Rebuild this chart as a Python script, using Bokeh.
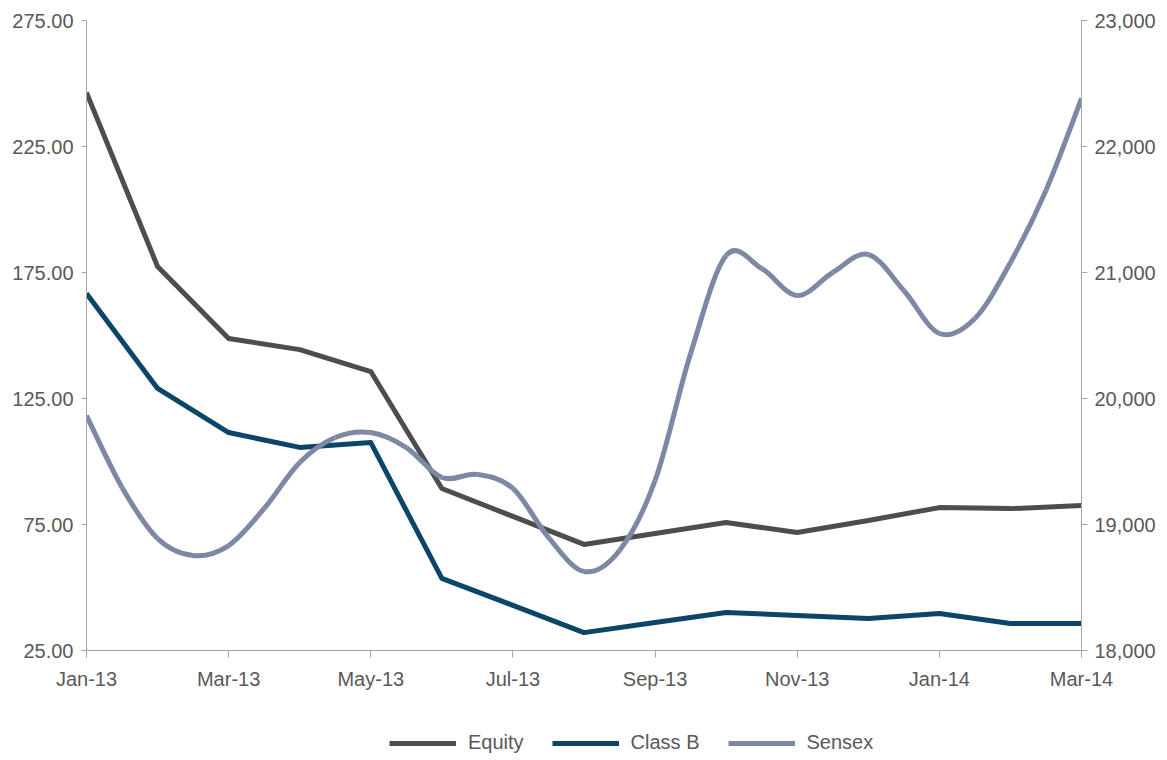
from bokeh.plotting import figure
from bokeh.layouts import column
from bokeh.models import (Range1d, LinearAxis, FixedTicker, NumeralTickFormatter,
                          Legend, LegendItem, ColumnDataSource)
from bokeh.embed import file_html
from bokeh.resources import INLINE

# ---- data ----
month_labels = ["Jan-13", "Feb-13", "Mar-13", "Apr-13", "May-13", "Jun-13", "Jul-13",
                "Aug-13", "Sep-13", "Oct-13", "Nov-13", "Dec-13", "Jan-14", "Feb-14", "Mar-14"]
month_idx = list(range(len(month_labels)))
equity = [246.4, 177.4, 148.8, 144.4, 135.7, 89.3, 78.2, 67.1, 71.4, 75.8, 71.8, 76.6, 81.7, 81.3, 82.5]
class_b = [166.7, 129.0, 111.5, 105.6, 107.5, 53.6, 42.9, 32.1, 36.1, 40.1, 38.9, 37.7, 39.7, 35.7, 35.7]
# Sensex readings, every half month
sensex_t = [i * 0.5 for i in range(29)]
sensex = [19865, 19294, 18889, 18754, 18833, 19127, 19492, 19690, 19730, 19611,
          19373, 19397, 19286, 18897, 18627, 18794, 19349, 20357, 21135, 21032,
          20817, 21000, 21143, 20857, 20516, 20635, 21079, 21651, 22381]
left_ticks = [25, 75, 125, 175, 225, 275]
right_ticks = [18000, 19000, 20000, 21000, 22000, 23000]
x_ticks = list(range(0, 15, 2))

C_EQ = "#4d4d4d"
C_CB = "#0b4568"
C_SX = "#7d88a4"
TXT = "#595959"
AX = "#a6a6a6"
FONT = "Liberation Sans"

p = figure(frame_width=995, frame_height=630, output_backend="svg", toolbar_location=None,
           x_range=Range1d(0, 14), y_range=Range1d(25, 275),
           min_border_left=86, min_border_right=79, min_border_top=20, min_border_bottom=60)
p.extra_y_ranges = {"sensex": Range1d(18000, 23000)}
p.outline_line_color = None
p.xgrid.visible = False
p.ygrid.visible = False
p.background_fill_color = "white"
p.border_fill_color = "white"

def style_axis(ax):
    ax.axis_line_color = AX
    ax.major_tick_line_color = AX
    ax.minor_tick_line_color = None
    ax.major_label_text_color = TXT
    ax.major_label_text_font = FONT
    ax.major_label_text_font_size = "20px"
    ax.major_tick_in = 0

# bottom axis
xa = p.xaxis[0]
style_axis(xa)
xa.ticker = FixedTicker(ticks=x_ticks)
xa.major_label_overrides = {i: month_labels[i] for i in x_ticks}
xa.major_tick_out = 7
xa.major_label_standoff = 10

# left axis
ya = p.yaxis[0]
style_axis(ya)
ya.ticker = FixedTicker(ticks=left_ticks)
ya.formatter = NumeralTickFormatter(format="0.00")
ya.major_tick_out = 5
ya.major_label_standoff = 8

# right axis
ra = LinearAxis(y_range_name="sensex")
style_axis(ra)
ra.ticker = FixedTicker(ticks=right_ticks)
ra.formatter = NumeralTickFormatter(format="0,0")
ra.major_tick_out = 6
ra.major_label_standoff = 7
p.add_layout(ra, "right")

p.line(month_idx, equity, line_color=C_EQ, line_width=5, line_join="round")
p.line(month_idx, class_b, line_color=C_CB, line_width=5, line_join="round")

# smoothed Sensex curve (Catmull-Rom style Bezier through the readings)
n = len(sensex)
x0, y0, x1, y1, cx0, cy0, cx1, cy1 = [], [], [], [], [], [], [], []
for i in range(n - 1):
    pm = max(i - 1, 0)
    pp = min(i + 2, n - 1)
    x0.append(sensex_t[i]); y0.append(sensex[i])
    x1.append(sensex_t[i + 1]); y1.append(sensex[i + 1])
    cx0.append(sensex_t[i] + (sensex_t[i + 1] - sensex_t[pm]) / 6.0)
    cy0.append(sensex[i] + (sensex[i + 1] - sensex[pm]) / 6.0)
    cx1.append(sensex_t[i + 1] - (sensex_t[pp] - sensex_t[i]) / 6.0)
    cy1.append(sensex[i + 1] - (sensex[pp] - sensex[i]) / 6.0)
src = ColumnDataSource(dict(x0=x0, y0=y0, x1=x1, y1=y1, cx0=cx0, cy0=cy0, cx1=cx1, cy1=cy1))
p.bezier(x0="x0", y0="y0", x1="x1", y1="y1", cx0="cx0", cy0="cy0", cx1="cx1", cy1="cy1",
         source=src, y_range_name="sensex", line_color=C_SX, line_width=5)

# ---- legend strip under the chart ----
pl = figure(width=1160, height=50, output_backend="svg", toolbar_location=None,
            min_border_left=0, min_border_right=0, min_border_top=0, min_border_bottom=0)
pl.xaxis.visible = False
pl.yaxis.visible = False
pl.xgrid.visible = False
pl.ygrid.visible = False
pl.outline_line_color = None
pl.background_fill_color = "white"
pl.border_fill_color = "white"
l_eq = pl.line(month_idx, equity, line_color=C_EQ, line_width=5, visible=False)
l_cb = pl.line(month_idx, class_b, line_color=C_CB, line_width=5, visible=False)
l_sx = pl.line(sensex_t, sensex, line_color=C_SX, line_width=5, visible=False)

legend = Legend(items=[LegendItem(label="Equity", renderers=[l_eq]),
                       LegendItem(label="Class B", renderers=[l_cb]),
                       LegendItem(label="Sensex", renderers=[l_sx])],
                orientation="horizontal", location=(303, 6))
legend.padding = 0
legend.margin = 0
legend.border_line_alpha = 0
legend.background_fill_alpha = 0
legend.inactive_fill_alpha = 0
legend.glyph_width = 67
legend.glyph_height = 20
legend.label_height = 20
legend.label_standoff = 12
legend.spacing = 28
legend.label_text_font = FONT
legend.label_text_font_size = "20px"
legend.label_text_color = TXT
pl.add_layout(legend, "center")

layout = column(p, pl, spacing=0)
open("out.html", "w").write(file_html(layout, INLINE))
